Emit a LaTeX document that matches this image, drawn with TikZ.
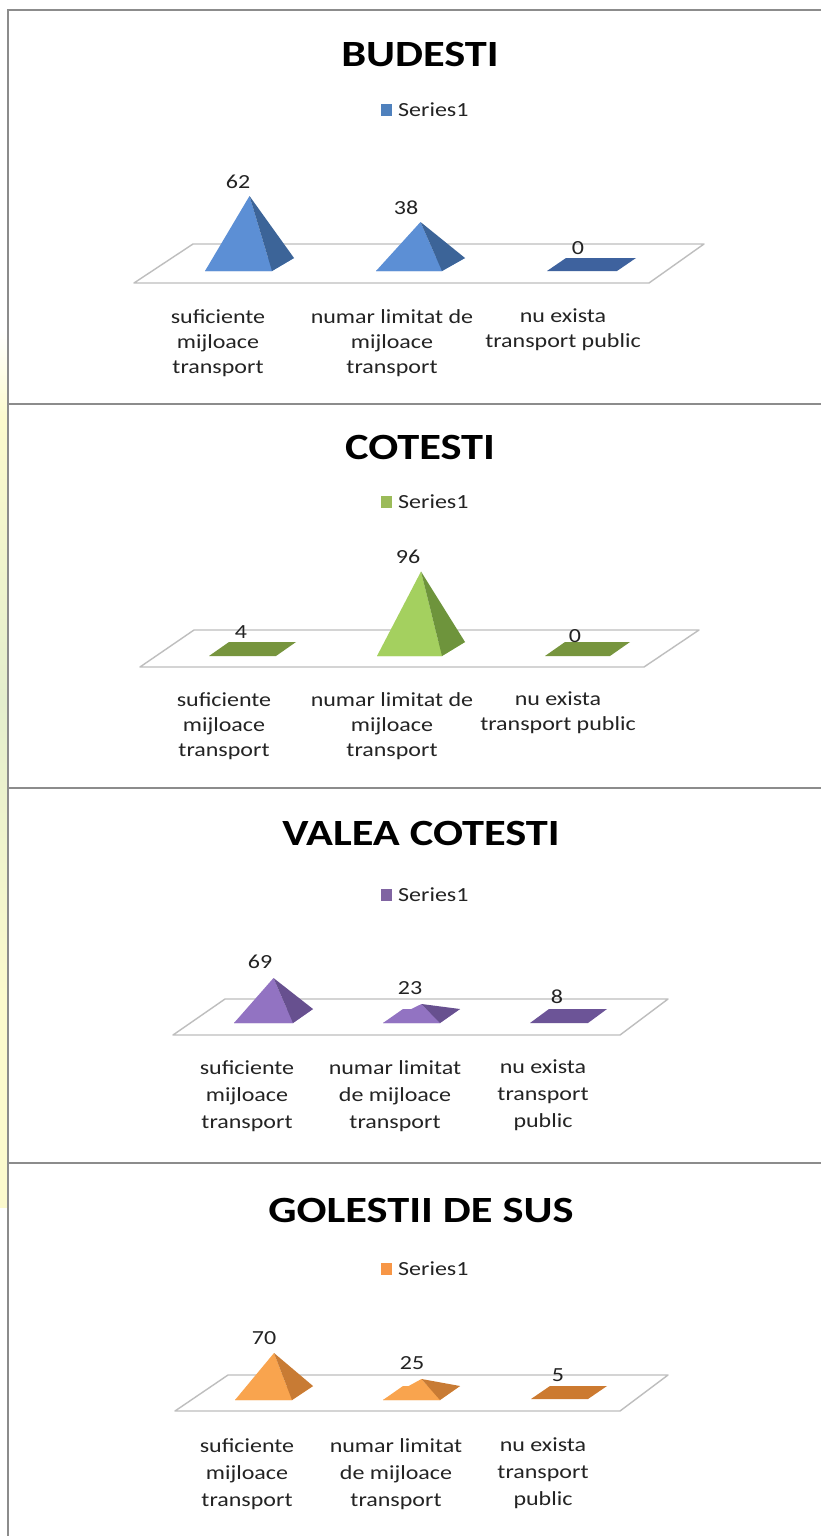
\documentclass[tikz,border=0pt]{standalone}
\usepackage{fontspec}
\setmainfont{Carlito}[FakeStretch=1.2]
\definecolor{frameg}{RGB}{140,140,140}
\definecolor{floorg}{RGB}{190,190,190}
\definecolor{txt}{RGB}{35,35,35}
\definecolor{bluef}{RGB}{92,143,213}
\definecolor{blues}{RGB}{60,100,152}
\definecolor{bluet}{RGB}{62,98,158}
\definecolor{bluel}{RGB}{79,129,189}
\definecolor{greenf}{RGB}{164,208,95}
\definecolor{greens}{RGB}{110,148,60}
\definecolor{greent}{RGB}{119,149,62}
\definecolor{greenl}{RGB}{155,187,89}
\definecolor{purpf}{RGB}{146,115,194}
\definecolor{purps}{RGB}{103,80,143}
\definecolor{purpt}{RGB}{108,84,151}
\definecolor{purpl}{RGB}{128,100,162}
\definecolor{orf}{RGB}{249,164,78}
\definecolor{ors}{RGB}{200,123,52}
\definecolor{ort}{RGB}{204,122,48}
\definecolor{orl}{RGB}{247,150,70}
\definecolor{stripy}{RGB}{252,250,205}
\definecolor{stripg}{RGB}{228,238,205}
\tikzset{
  ttl/.style={font=\fontsize{37}{40}\selectfont\bfseries, text=black, inner sep=0},
  leg/.style={font=\fontsize{20}{24}\selectfont, text=txt, inner sep=0, anchor=west},
  val/.style={font=\fontsize{20}{24}\selectfont, text=txt, inner sep=0},
  catA/.style={font=\fontsize{20}{25}\selectfont, text=txt, inner sep=0, align=center, anchor=north},
  catB/.style={font=\fontsize{20}{27}\selectfont, text=txt, inner sep=0, align=center, anchor=north},
  floorline/.style={draw=floorg, line width=1.4pt, fill=white, line join=round},
  sep/.style={draw=frameg, line width=2.6pt},
}
% pyramid: FLx, FLy, w, dx, dy, h, front, side, base
\newcommand\pyrm[9]{%
  \fill[#9] (#1,#2) -- ++(#3,0) -- ++(#4,#5) -- ++(-#3,0) -- cycle;
  \fill[#7] (#1,#2) -- (#1+#3,#2) -- (#1+0.5*#3+0.5*#4, #2+0.5*#5-#6) -- cycle;
  \fill[#8] (#1+#3,#2) -- (#1+#3+#4,#2+#5) -- (#1+0.5*#3+0.5*#4, #2+0.5*#5-#6) -- cycle;
}
% flat: FLx, FLy, w, dx, dy, color
\newcommand\flatp[6]{%
  \fill[#6] (#1,#2) -- ++(#3,0) -- ++(#4,#5) -- ++(-#3,0) -- cycle;
}
\begin{document}
\begin{tikzpicture}[x=1pt,y=-1pt]
\useasboundingbox (0,0) rectangle (821,1536);
\fill[white] (0,0) rectangle (821,1536);
% left strip
\shade[top color=white, bottom color=stripy] (0,330) rectangle (7,420);
\shade[top color=stripy, bottom color=stripg] (0,420) rectangle (7,700);
\shade[top color=stripg, bottom color=stripy] (0,700) rectangle (7,1000);
\fill[stripy] (0,1000) rectangle (7,1208);
% frame
\draw[frameg, line width=2pt] (8,1536) -- (8,10) -- (821,10);
\draw[sep] (8,404) -- (821,404);
\draw[sep] (8,788) -- (821,788);
\draw[sep] (8,1163) -- (821,1163);

% ===== Panel 1: BUDESTI =====
\node[ttl] (t1) at (420,55) {BUDESTI};
\fill[bluel] (381,104) rectangle (392,116);
\node[leg] (l1) at (398,110) {Series1};
\draw[floorline] (193,244) -- (704,244) -- (649,283) -- (134,283) -- cycle;
\pyrm{205}{271}{67}{22}{-13}{68.5}{bluef}{blues}{bluef}
\pyrm{376}{271}{66}{23}{-13}{42.5}{bluef}{blues}{bluef}
\flatp{547}{271}{70}{19}{-13}{bluet}
\node[val] (v11) at (238,182) {62};
\node[val] (v12) at (406,208) {38};
\node[val] (v13) at (578,248) {0};
\node[catA] (c11) at (218,309) {suficiente\\mijloace\\transport};
\node[catA] (c12) at (392,309) {numar limitat de\\mijloace\\transport};
\node[catA] (c13) at (563,309) {nu exista\\transport public};

% ===== Panel 2: COTESTI =====
\node[ttl] (t2) at (420,447) {COTESTI};
\fill[greenl] (381,496) rectangle (392,508);
\node[leg] (l2) at (398,502) {Series1};
\draw[floorline] (194,630) -- (699,630) -- (644,667) -- (140,667) -- cycle;
\flatp{209}{656}{67}{20}{-14}{greent}
\pyrm{377}{656}{65}{23}{-14}{77.5}{greenf}{greens}{greenf}
\flatp{545}{656}{65}{20}{-14}{greent}
\node[val] (v21) at (241,632) {4};
\node[val] (v22) at (408,557) {96};
\node[val] (v23) at (575,636) {0};
\node[catA] (c21) at (224,692) {suficiente\\mijloace\\transport};
\node[catA] (c22) at (392,692) {numar limitat de\\mijloace\\transport};
\node[catA] (c23) at (558,692) {nu exista\\transport public};

% ===== Panel 3: VALEA COTESTI =====
\node[ttl] (t3) at (421,833) {VALEA COTESTI};
\fill[purpl] (381,889) rectangle (392,901);
\node[leg] (l3) at (398,895) {Series1};
\draw[floorline] (225,999) -- (668,999) -- (620,1035) -- (173,1035) -- cycle;
\pyrm{234}{1023}{59}{20}{-14}{38}{purpf}{purps}{purpf}
\pyrm{383}{1023}{57}{20}{-14}{12}{purpf}{purps}{purpf}
\flatp{530}{1023}{58}{19}{-14}{purpt}
\node[val] (v31) at (260,962) {69};
\node[val] (v32) at (410,988) {23};
\node[val] (v33) at (557,997) {8};
\node[catB] (c31) at (247,1060) {suficiente\\mijloace\\transport};
\node[catB] (c32) at (395,1060) {numar limitat\\de mijloace\\transport};
\node[catB] (c33) at (543,1060) {nu exista\\transport\\public};

% ===== Panel 4: GOLESTII DE SUS =====
\node[ttl] (t4) at (421,1210) {GOLESTII DE SUS};
\fill[orl] (381,1263) rectangle (392,1275);
\node[leg] (l4) at (398,1269) {Series1};
\draw[floorline] (228,1375) -- (668,1375) -- (620,1411) -- (175,1411) -- cycle;
\pyrm{235}{1400}{57}{21}{-14}{40}{orf}{ors}{orf}
\pyrm{383}{1400}{57}{20}{-14}{14}{orf}{ors}{orf}
\flatp{531}{1399}{57}{19}{-13}{ort}
\node[val] (v41) at (264,1338) {70};
\node[val] (v42) at (412,1363) {25};
\node[val] (v43) at (558,1375) {5};
\node[catB] (c41) at (247,1438) {suficiente\\mijloace\\transport};
\node[catB] (c42) at (396,1438) {numar limitat\\de mijloace\\transport};
\node[catB] (c43) at (543,1438) {nu exista\\transport\\public};
\end{tikzpicture}
\end{document}
